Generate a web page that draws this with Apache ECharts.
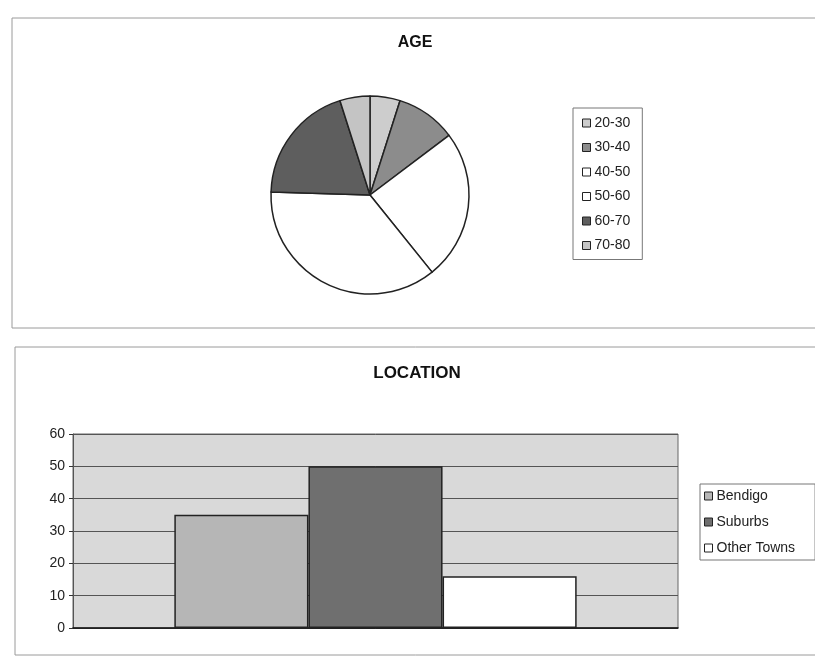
<!DOCTYPE html>
<html>
<head>
<meta charset="utf-8">
<script src="https://cdn.jsdelivr.net/npm/echarts@6/dist/echarts.min.js"></script>
<style>
  html, body { margin: 0; padding: 0; background: #fff; }
  #main { width: 815px; height: 660px; }
</style>
</head>
<body>
<div id="main"></div>
<script>
var ageGroups = ['20-30', '30-40', '40-50', '50-60', '60-70', '70-80'];
var ageCounts = [5, 10, 25, 37, 20, 5];
var ageColors = ['#cdcdcd', '#8c8c8c', '#ffffff', '#ffffff', '#5e5e5e', '#c4c4c4'];

var locations = ['Bendigo', 'Suburbs', 'Other Towns'];
var locationCounts = [35, 50, 16];
var locationColors = ['#b6b6b6', '#6f6f6f', '#ffffff'];
var yTicks = [0, 10, 20, 30, 40, 50, 60];

var font = '"Liberation Sans", Arial, sans-serif';
var chart = echarts.init(document.getElementById('main'));

var pieData = ageGroups.map(function (name, i) {
    return { name: name, value: ageCounts[i], itemStyle: { color: ageColors[i] } };
});

var barSeries = locations.map(function (name, i) {
    return {
        name: name,
        type: 'bar',
        data: [locationCounts[i]],
        barGap: '0%',
        barCategoryGap: '33.5%',
        itemStyle: { color: locationColors[i], borderColor: '#222', borderWidth: 1.5 },
        emphasis: { disabled: true }
    };
});

var option = {
    backgroundColor: '#fff',
    animation: false,
    textStyle: { fontFamily: font },
    graphic: [
        { type: 'rect', shape: { x: 12, y: 18, width: 830, height: 310 }, silent: true,
          style: { fill: 'none', stroke: '#9a9a9a', lineWidth: 1 } },
        { type: 'rect', shape: { x: 15, y: 347, width: 830, height: 308 }, silent: true,
          style: { fill: 'none', stroke: '#9a9a9a', lineWidth: 1 } }
    ],
    title: [
        { text: 'AGE', left: 410, top: 30, textAlign: 'center',
          textStyle: { fontFamily: font, fontSize: 16, fontWeight: 'bold', color: '#111' } },
        { text: 'LOCATION', left: 412, top: 360, textAlign: 'center',
          textStyle: { fontFamily: font, fontSize: 17, fontWeight: 'bold', color: '#111' } }
    ],
    legend: [
        {
            data: ageGroups,
            orient: 'vertical',
            left: 573, top: 108,
            padding: [8, 12, 7, 9],
            itemWidth: 8, itemHeight: 8, itemGap: 10.5,
            icon: 'rect',
            borderColor: '#777', borderWidth: 1,
            itemStyle: { borderColor: '#222', borderWidth: 1 },
            textStyle: { fontFamily: font, fontSize: 14, color: '#222', padding: [0, 0, 0, -1] },
            selectedMode: false
        },
        {
            data: locations,
            orient: 'vertical',
            left: 700, top: 484,
            padding: [5, 20, 5, 4],
            itemWidth: 8, itemHeight: 8, itemGap: 12,
            icon: 'rect',
            borderColor: '#777', borderWidth: 1,
            itemStyle: { borderColor: '#222', borderWidth: 1 },
            textStyle: { fontFamily: font, fontSize: 14, color: '#222', padding: [0, 0, 0, -1] },
            selectedMode: false
        }
    ],
    grid: {
        left: 73, right: 137, top: 434, bottom: 32,
        show: true, backgroundColor: '#d9d9d9', borderColor: '#666', borderWidth: 1
    },
    xAxis: {
        type: 'category',
        data: [''],
        axisLine: { lineStyle: { color: '#111', width: 1.5 } },
        axisTick: { show: false },
        axisLabel: { show: false }
    },
    yAxis: {
        type: 'value',
        min: yTicks[0], max: yTicks[yTicks.length - 1], interval: 10,
        axisLine: { show: true, lineStyle: { color: '#555' } },
        axisTick: { show: true, length: 4, lineStyle: { color: '#333' } },
        axisLabel: { fontFamily: font, fontSize: 14, color: '#222', margin: 8 },
        splitLine: { lineStyle: { color: '#555', width: 1 } }
    },
    series: [
        {
            name: 'AGE',
            type: 'pie',
            center: [370, 195],
            radius: 99,
            startAngle: 90,
            clockwise: true,
            label: { show: false },
            labelLine: { show: false },
            itemStyle: { borderColor: '#222', borderWidth: 1.5 },
            emphasis: { disabled: true },
            data: pieData
        }
    ].concat(barSeries)
};

chart.setOption(option);
</script>
</body>
</html>
